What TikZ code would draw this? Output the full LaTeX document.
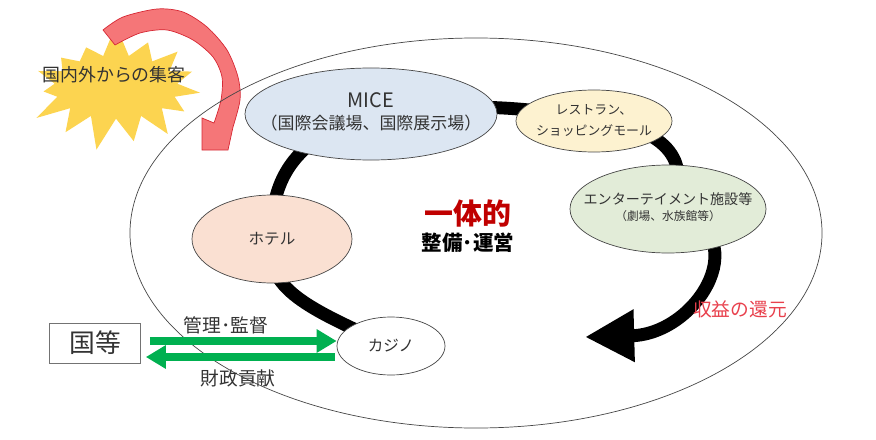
\documentclass[tikz,border=0pt]{standalone}
\usepackage{fontspec}
\setmainfont{Noto Sans CJK JP}
\usepackage{tikz}
\usetikzlibrary{arrows.meta,positioning,shapes.geometric,shapes.symbols,backgrounds}
\usepackage{xcolor}
\definecolor{edgegray}{RGB}{70,70,70}
\definecolor{micefill}{RGB}{220,230,242}
\definecolor{shopfill}{RGB}{253,242,208}
\definecolor{entfill}{RGB}{226,236,216}
\definecolor{hotelfill}{RGB}{250,224,210}
\definecolor{burstgold}{RGB}{252,212,80}
\definecolor{arrowred}{RGB}{245,118,120}
\definecolor{arrowline}{RGB}{214,40,52}
\definecolor{flowgreen}{RGB}{0,176,80}
\definecolor{titlered}{RGB}{192,0,0}
\definecolor{returnred}{RGB}{232,64,76}
% text of fixed-size ellipses, kept out of the node width
\newcommand{\inell}[1]{\makebox[0pt]{\begin{tabular}{@{}c@{}}#1\end{tabular}}}

\begin{document}
\begin{tikzpicture}[x=0.03cm, y=0.03cm,
          place/.style={ellipse, draw=edgegray, line width=0.6pt,
                        inner sep=0pt, text=black!80},
          burst/.style={starburst, fill=burstgold, draw=none,
                        minimum width=5.7cm, minimum height=3.9cm,
                        starburst points=15, starburst point height=1cm,
                        random starburst=7},
          flow/.style={line width=11pt, black},
          flowend/.style={flow, -{Triangle[length=42pt, width=42pt]}},
          link/.style={line width=6.8pt, draw=flowgreen,
                       -{Triangle[length=17pt, width=19pt]}},
          lbl/.style={inner sep=0pt, text=black!80,
                      font=\fontsize{15.5}{18}\selectfont}
        ]
          \useasboundingbox (0,0) rectangle (876,439);
          % attraction from outside
          \node[burst] (burst) at (116,352) {};
          \node[lbl, font=\fontsize{15.3}{18}\selectfont] (catch) at (114,364) {国内外からの集客};
          \filldraw[fill=arrowred, draw=arrowline, line width=0.6pt]
            plot[smooth] coordinates {(103,409) (123,422) (157,430) (183,427) (207,412)
                                      (227,389) (238,362) (240,339) (233,312)}
            -- (228,289) -- (202,289) -- (202,321) -- (214,316)
            -- plot[smooth] coordinates {(214,316) (221,339) (222,362) (213,382)
                                         (193,399) (167,409) (140,406) (115,394)}
            -- cycle;
          \node[ellipse, draw=edgegray, line width=0.6pt,
                minimum width=20.76cm, minimum height=11.7cm] (field) at (476,206) {};
          % facilities
          \node[place, fill=micefill, minimum width=7.56cm, minimum height=2.76cm,
                font=\fontsize{14.5}{18.5}\selectfont] (mice) at (371,325)
                {\inell{{\fontsize{17}{18.5}\selectfont MICE}\\（国際会議場、国際展示場）}};
          \node[place, fill=shopfill, minimum width=4.68cm, minimum height=1.86cm,
                font=\fontsize{11}{17.5}\selectfont] (shop) at (594,318)
                {\inell{レストラン、\\ショッピングモール}};
          \node[place, fill=entfill, minimum width=5.88cm, minimum height=2.64cm,
                font=\fontsize{12}{14}\selectfont] (ent) at (668,230)
                {\inell{エンターテイメント施設等\\{\fontsize{10}{12}\selectfont （劇場、水族館等）}}};
          \node[place, fill=hotelfill, minimum width=4.8cm, minimum height=2.64cm,
                font=\fontsize{13.3}{16}\selectfont] (hotel) at (272,200) {ホテル};
          \node[place, fill=white, minimum width=3.24cm, minimum height=1.74cm,
                font=\fontsize{13.3}{16}\selectfont] (casino) at (391,93) {カジノ};
          \coordinate (tip) at (585,102);
          % centre title
          \node[inner sep=0pt, text=titlered, font=\fontsize{24.7}{28}\selectfont\bfseries] (unity) at (468,226) {一体的};
          \node[inner sep=0pt, font=\fontsize{17.5}{20}\selectfont\bfseries, below=5pt of unity] (build) {整備･運営};
          \node[lbl, text=returnred, font=\fontsize{16}{19}\selectfont] (ret) at (740,130) {収益の還元};
          % state side
          \node[draw=black!55, line width=0.6pt, minimum width=2.73cm, minimum height=1.2cm,
                inner sep=0pt, text=black!80, font=\fontsize{22}{24}\selectfont] (kuni) at (95,96) {国等};
          \draw[link] ([shift={(9,2)}]kuni.east) -- ([shift={(0,5)}]casino.west);
          \draw[link] ([shift={(-2,-11)}]casino.west) -- ([shift={(5,-14)}]kuni.east);
          \node[lbl, font=\fontsize{16}{18}\selectfont] (ctrl) at (226,114) {管理･監督};
          \node[lbl, font=\fontsize{16}{18}\selectfont] (fin) at (238,61) {財政貢献};
          % the cycle behind the facilities
          \begin{scope}[on background layer]
            \draw[flow] (casino.center) .. controls (310,130) and (262,150) .. (hotel.center);
            \draw[flow] (hotel.center) .. controls (270,255) and (290,300) .. (mice.center);
            \draw[flow] (mice.center) .. controls (450,336) and (530,334) .. (shop.center);
            \draw[flow] (shop.center) .. controls (650,315) and (700,285) .. (ent.center);
            \draw[flowend] (ent.center) .. controls (760,210) and (700,105) .. (tip);
          \end{scope}
        \end{tikzpicture}
\end{document}
